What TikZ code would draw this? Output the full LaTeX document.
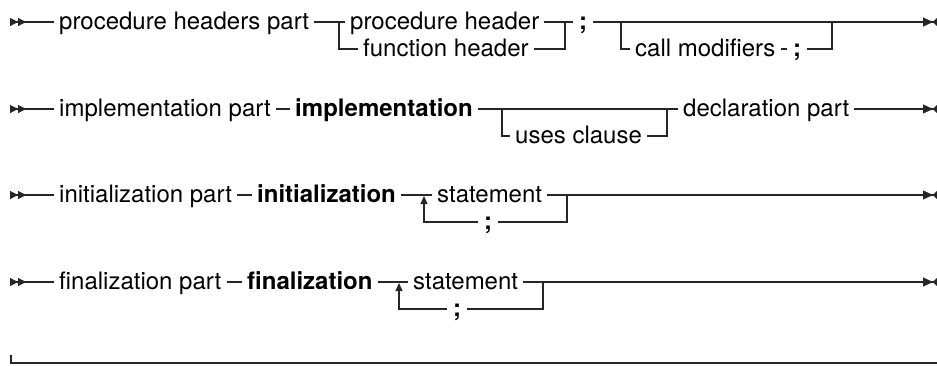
\documentclass[tikz,border=0pt]{standalone}
\usepackage{fontspec}
\setmainfont{TeX Gyre Heros}
\usetikzlibrary{arrows.meta}

\begin{document}
\begin{tikzpicture}[x=1pt,y=-1pt,
  font=\fontsize{24}{28}\selectfont,
  term/.style={inner xsep=5pt, inner ysep=0pt, text height=18pt, text depth=3pt, anchor=west},
  kw/.style={term, font=\fontsize{24}{28}\selectfont\bfseries},
  semi/.style={kw, inner xsep=6pt, anchor=center},
  rail/.style={draw=black!85, line width=1.1pt},
  begin/.style={rail, {Triangle[reversed,length=8pt,width=8pt]Triangle[reversed,length=8pt,width=8pt]}-},
  finish/.style={rail, -{Triangle[length=10pt,width=9pt]Triangle[reversed,length=4pt,width=8pt]}},
  loop/.style={rail, -{Triangle[length=8pt,width=7pt]}}]
\useasboundingbox (0,0) rectangle (937,365);

% procedure headers part
\coordinate (r1s) at (10,22);
\coordinate (r1e) at (937,22);
\coordinate (b1) at (339,22);
\coordinate (j1) at (565,22);
\coordinate (b2) at (621,22);
\coordinate (j2) at (832,22);
\node[term] (php) at (54,22) {procedure headers part};
\node[term] (ph) at (345,22) {procedure header};
\node[term] (fh) at (358,49) {function header};
\node[semi] (sc1) at (583,22) {;};
\node[term] (cm) at (630,49) {call modifiers};
\node[semi] (sc2) at (797,49) {;};
\draw[begin] (r1s) -- (php.west);
\draw[rail] (php.east) -- (ph.west);
\draw[rail] (b1) |- (fh.west);
\draw[rail] (fh.east) -| (j1);
\draw[rail] (ph.east) -- (sc1.west);
\draw[finish] (sc1.east) -- (r1e);
\draw[rail] (b2) |- (cm.west);
\draw[rail] (cm.east) -- (sc2.west);
\draw[rail] (sc2.east) -| (j2);

% implementation part
\coordinate (r2s) at (10,109);
\coordinate (r2e) at (937,109);
\coordinate (b3) at (502,109);
\coordinate (j3) at (667,109);
\node[term] (ip) at (54,109) {implementation part};
\node[kw] (impl) at (290,109) {implementation};
\node[term] (uc) at (510,136) {uses clause};
\node[term] (dp) at (678,109) {declaration part};
\draw[begin] (r2s) -- (ip.west);
\draw[rail] (ip.east) -- (impl.west);
\draw[rail] (impl.east) -- (dp.west);
\draw[rail] (b3) |- (uc.west);
\draw[rail] (uc.east) -| (j3);
\draw[finish] (dp.east) -- (r2e);

% initialization part
\coordinate (r3s) at (10,195);
\coordinate (r3e) at (937,195);
\coordinate (l1) at (424,196);
\coordinate (j5) at (567,195);
\node[term] (inp) at (54,195) {initialization part};
\node[kw] (init) at (252,195) {initialization};
\node[term] (st1) at (432,195) {statement};
\node[semi] (sc3) at (488,222) {;};
\draw[begin] (r3s) -- (inp.west);
\draw[rail] (inp.east) -- (init.west);
\draw[rail] (init.east) -- (st1.west);
\draw[finish] (st1.east) -- (r3e);
\draw[rail] (j5) |- (sc3.east);
\draw[loop] (sc3.west) -| (l1);

% finalization part
\coordinate (r4s) at (10,282);
\coordinate (r4e) at (937,282);
\coordinate (l2) at (399,283);
\coordinate (j6) at (543,282);
\node[term] (fp) at (54,282) {finalization part};
\node[kw] (fin) at (242,282) {finalization};
\node[term] (st2) at (408,282) {statement};
\node[semi] (sc4) at (457,309) {;};
\draw[begin] (r4s) -- (fp.west);
\draw[rail] (fp.east) -- (fin.west);
\draw[rail] (fin.east) -- (st2.west);
\draw[finish] (st2.east) -- (r4e);
\draw[rail] (j6) |- (sc4.east);
\draw[loop] (sc4.west) -| (l2);

% closing rule
\coordinate (bl) at (11,355);
\coordinate (br) at (937,363);
\draw[rail] (bl) |- (br);
\end{tikzpicture}
\end{document}
